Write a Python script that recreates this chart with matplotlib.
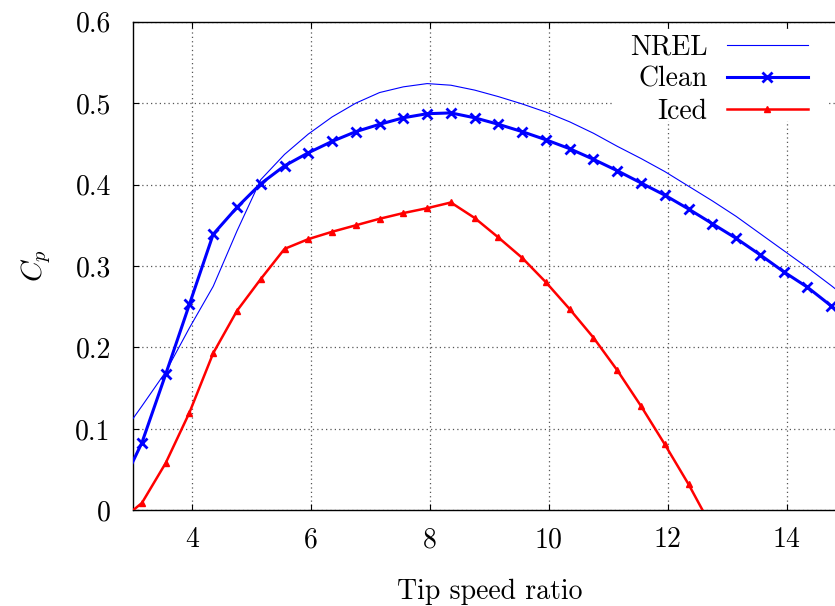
import matplotlib
matplotlib.use("Agg")
import matplotlib.pyplot as plt
from matplotlib.ticker import FixedLocator, FixedFormatter
from matplotlib.patches import Rectangle

# Tip speed ratio samples
tsr = [2.75, 3.15, 3.55, 3.95, 4.35, 4.75, 5.15, 5.55, 5.95, 6.35, 6.75,
       7.15, 7.55, 7.95, 8.35, 8.75, 9.15, 9.55, 9.95, 10.35, 10.75,
       11.15, 11.55, 11.95, 12.35, 12.75, 13.15, 13.55, 13.95, 14.35,
       14.75, 15.15]

# Power coefficient curves
cp_nrel = [0.087, 0.128, 0.170, 0.224, 0.275, 0.343, 0.406, 0.437, 0.462,
           0.483, 0.500, 0.513, 0.520, 0.524, 0.522, 0.516, 0.508, 0.499,
           0.489, 0.477, 0.463, 0.447, 0.432, 0.416, 0.398, 0.380, 0.361,
           0.340, 0.319, 0.298, 0.276, 0.253]

cp_clean = [0.022, 0.083, 0.167, 0.253, 0.339, 0.372, 0.401, 0.423, 0.439,
            0.453, 0.465, 0.474, 0.482, 0.487, 0.488, 0.482, 0.474, 0.465,
            0.455, 0.444, 0.431, 0.417, 0.402, 0.387, 0.370, 0.352, 0.334,
            0.314, 0.293, 0.274, 0.251, 0.228]

tsr_iced = tsr[:26]
cp_iced = [-0.015, 0.009, 0.058, 0.120, 0.193, 0.245, 0.284, 0.321, 0.333,
           0.342, 0.350, 0.358, 0.365, 0.371, 0.378, 0.359, 0.335, 0.310,
           0.280, 0.247, 0.212, 0.172, 0.128, 0.081, 0.032, -0.022]

x_ticks = [4, 6, 8, 10, 12, 14]
x_ticklabels = ["4", "6", "8", "10", "12", "14"]
y_ticks = [0, 0.1, 0.2, 0.3, 0.4, 0.5, 0.6]
y_ticklabels = ["0", "0.1", "0.2", "0.3", "0.4", "0.5", "0.6"]

plt.rcParams["font.family"] = ["cmr10", "DejaVu Serif"]
plt.rcParams["mathtext.fontset"] = "cm"
plt.rcParams["axes.unicode_minus"] = False

FS = 20
W, H = 835, 606
fig = plt.figure(figsize=(W / 100, H / 100), dpi=100)
x0, x1 = 133, 846
y0, y1 = 510.3, 21.7
ax = fig.add_axes([x0 / W, 1 - y0 / H, (x1 - x0) / W, (y0 - y1) / H])

ax.plot(tsr, cp_nrel, color="#0000ff", lw=0.8, label="NREL", zorder=3)
ax.plot(tsr, cp_clean, color="#0000ff", lw=2.2, marker="x", ms=6.5,
        mew=2.0, label="Clean", zorder=4)
ax.plot(tsr_iced, cp_iced, color="#ff0000", lw=1.8, marker="^", ms=4,
        label="Iced", zorder=4)

ax.set_xlim(3, 15)
ax.set_ylim(0, 0.6)
ax.xaxis.set_major_locator(FixedLocator(x_ticks))
ax.xaxis.set_major_formatter(FixedFormatter(x_ticklabels))
ax.yaxis.set_major_locator(FixedLocator(y_ticks))
ax.yaxis.set_major_formatter(FixedFormatter(y_ticklabels))

ax.grid(True, linestyle=(0, (1, 2.5)), color="#555555", lw=0.9)
ax.tick_params(direction="in", length=4, width=0.8, top=True, right=True,
               labelsize=FS, colors="black")
ax.tick_params(axis="x", pad=12)
ax.tick_params(axis="y", pad=16)
for sp in ax.spines.values():
    sp.set_linewidth(1.0)

ax.set_xlabel("Tip speed ratio", fontsize=FS, labelpad=18)
ax.set_ylabel("$C_p$", fontsize=21, labelpad=16)

# opaque key area
ax.add_patch(Rectangle((612 / W, 1 - 121 / H), (829 - 612) / W, (121 - 29) / H,
                       transform=fig.transFigure, facecolor="white",
                       edgecolor="none", zorder=2))

leg = ax.legend(loc="upper right", bbox_to_anchor=(814 / W, 1 - 29 / H),
                bbox_transform=fig.transFigure, markerfirst=False,
                fontsize=FS, handlelength=2.95, handletextpad=0.68,
                labelspacing=0.2, borderpad=0.2, borderaxespad=0,
                frameon=False)
leg.set_zorder(5)
for t in leg.get_texts():
    t.set_ha("right")
leg._legend_box.align = "right"

fig.savefig("out.png", dpi=100)
